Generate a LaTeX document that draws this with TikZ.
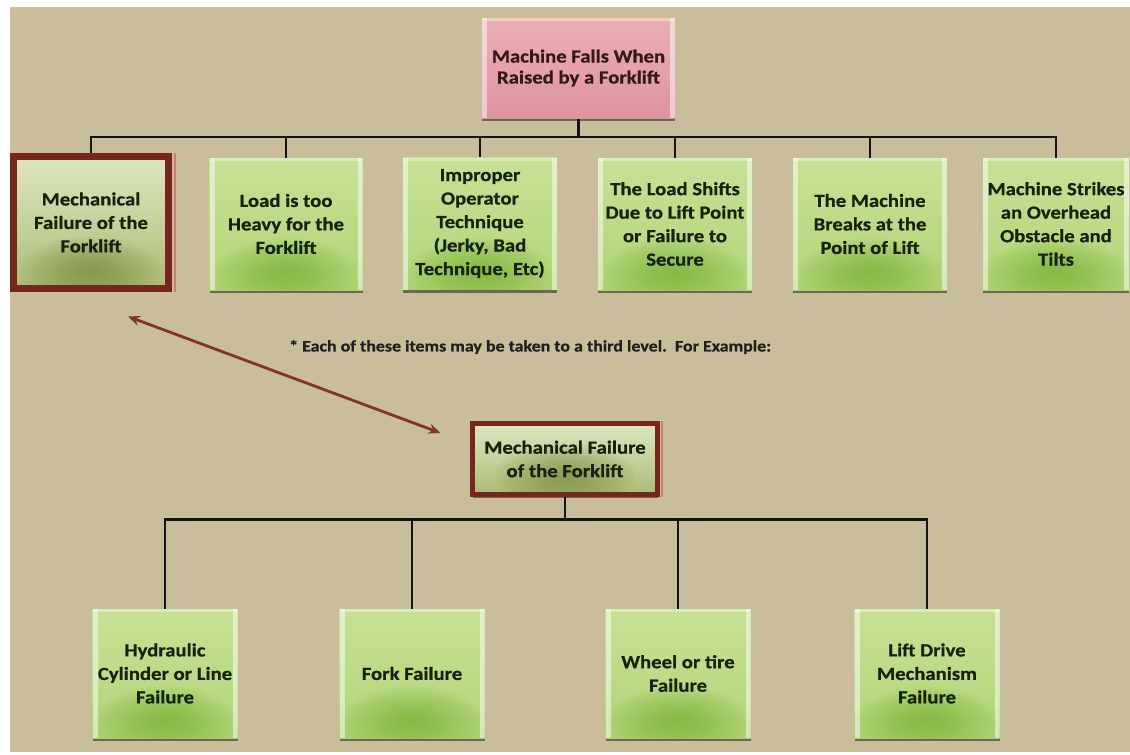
\documentclass[tikz,border=0pt]{standalone}
\usepackage{fontspec}
\setmainfont[FakeStretch=1.12, BoldFeatures={FakeBold=0.7}]{Carlito}
\usetikzlibrary{shadows,arrows.meta,backgrounds}

\definecolor{bgtan}{HTML}{C9BD9B}
\definecolor{boxtext}{HTML}{16220C}
\definecolor{toptext}{HTML}{34181A}
\definecolor{maroon}{HTML}{75261F}
\definecolor{framelight}{HTML}{C77F78}
\definecolor{arrowred}{HTML}{823628}
\definecolor{glowgreen}{HTML}{6FAA22}
\definecolor{glowolive}{HTML}{6E8030}

% colour stops of the box fills
\definecolor{gA}{HTML}{B9D98A}
\definecolor{gB}{HTML}{92C24A}
\definecolor{gC}{HTML}{A2CB62}
\definecolor{gD}{HTML}{B8D982}
\definecolor{gE}{HTML}{C6E195}
\definecolor{gF}{HTML}{D2E8AA}
\definecolor{gG}{HTML}{E8F3D2}
\definecolor{fA}{HTML}{B8C48A}
\definecolor{fB}{HTML}{94A653}
\definecolor{fC}{HTML}{A6B66C}
\definecolor{fD}{HTML}{C6D29C}
\definecolor{fE}{HTML}{E1E9C6}
\definecolor{fF}{HTML}{F3F7E6}
\definecolor{pA}{HTML}{A85A68}
\definecolor{pB}{HTML}{C77E88}
\definecolor{pC}{HTML}{D98F97}
\definecolor{pD}{HTML}{E5A2A8}
\definecolor{pE}{HTML}{ECB3B7}
\definecolor{pF}{HTML}{F6D8DA}

% green bevelled boxes (bottom to top)
\pgfdeclareverticalshading{gbox}{100bp}{%
  color(0bp)=(gA); color(3bp)=(gB); color(15bp)=(gC); color(40bp)=(gD);
  color(75bp)=(gE); color(95bp)=(gF); color(100bp)=(gG)}
% pale inner fill of the framed boxes
\pgfdeclareverticalshading{fbox}{100bp}{%
  color(0bp)=(fA); color(4bp)=(fB); color(20bp)=(fC); color(50bp)=(fD);
  color(80bp)=(fE); color(100bp)=(fF)}
% pink title box
\pgfdeclareverticalshading{pbox}{100bp}{%
  color(0bp)=(pA); color(4bp)=(pB); color(15bp)=(pC); color(50bp)=(pD);
  color(85bp)=(pE); color(100bp)=(pF)}

\newcommand\bevelstrips{%
  \fill[white,opacity=.5] (path picture bounding box.north west) rectangle ([xshift=5pt]path picture bounding box.south west);
  \fill[white,opacity=.5] (path picture bounding box.north east) rectangle ([xshift=-5pt]path picture bounding box.south east);
  \fill[white,opacity=.35] (path picture bounding box.north west) rectangle ([yshift=-3pt]path picture bounding box.north east);
}
% soft glow near the bottom edge, built from stacked translucent ellipses
\newcommand\softglow[1]{%
  \foreach \k in {1,...,14}
    \fill[#1, opacity=.055] ([yshift=18pt]path picture bounding box.south) ellipse ({5pt*\k} and {2.4pt*\k});
}

\tikzset{
  basebox/.style={rectangle, align=center, inner sep=0pt,
    font=\fontsize{18.5}{23.5}\selectfont\bfseries, text=boxtext,
    drop shadow={shadow xshift=0pt, shadow yshift=-3pt, opacity=.45, fill=black}},
  greenbox/.style={basebox, shading=gbox, minimum width=153pt, minimum height=132pt,
    path picture={\softglow{glowgreen}\bevelstrips}},
  lowbox/.style={greenbox, minimum width=145pt, minimum height=129pt},
  framedbox/.style={basebox, shading=fbox, draw=maroon,
    path picture={\softglow{glowolive}}},
  titlebox/.style={basebox, shading=pbox, minimum width=193pt, minimum height=100pt,
    text=toptext, font=\fontsize{18.5}{21}\selectfont\bfseries,
    path picture={\bevelstrips}},
  conn/.style={draw=black!92, line width=2.4pt},
  linkarrow/.style={draw=arrowred, line width=2.8pt,
    {Stealth[length=12pt,width=10pt]}-{Stealth[length=12pt,width=10pt]}},
  notetext/.style={font=\fontsize{16}{18}\selectfont\bfseries, text=black!88, inner sep=0pt}
}

\begin{document}
\begin{tikzpicture}[x=1pt,y=-1pt]
\useasboundingbox (0,0) rectangle (1130,755);

% top level
\node[titlebox] (top) at (578.5,68) {Machine Falls When\\Raised by a Forklift};

\node[framedbox, line width=7pt, minimum width=155pt, minimum height=132pt] (b1) at (91,222.5)
  {Mechanical\\Failure of the\\Forklift};
\node[greenbox] (b2) at (286,224) {Load is too\\Heavy for the\\Forklift};
\node[greenbox, minimum width=154pt] (b3) at (480,223.5)
  {Improper\\Operator\\Technique\\(Jerky, Bad\\Technique, Etc)};
\node[greenbox, minimum width=154pt] (b4) at (675,224)
  {The Load Shifts\\Due to Lift Point\\or Failure to\\Secure};
\node[greenbox, minimum width=154pt] (b5) at (870,224)
  {The Machine\\Breaks at the\\Point of Lift};
\node[greenbox, minimum width=146pt] (b6) at (1056,224)
  {Machine Strikes\\an Overhead\\Obstacle and\\Tilts};

\node[notetext, anchor=west] (note) at (289,347)
  {* Each of these items may be taken to a third level.\ \ For Example:};

% third level example
\node[framedbox, line width=5pt, minimum width=185pt, minimum height=71pt] (mid) at (565,459)
  {Mechanical Failure\\of the Forklift};

\node[lowbox] (c1) at (165,673.5) {Hydraulic\\Cylinder or Line\\Failure};
\node[lowbox] (c2) at (412,673.5) {Fork Failure};
\node[lowbox] (c3) at (678,673.5) {Wheel or tire\\Failure};
\node[lowbox] (c4) at (927,673.5) {Lift Drive\\Mechanism\\Failure};

% light inner edge on the right of the frames
\draw[framelight, line width=2pt] ([xshift=2.5pt]b1.north east) -- ([xshift=2.5pt]b1.south east);
\draw[framelight, line width=1.6pt] ([xshift=1.8pt]mid.north east) -- ([xshift=1.8pt]mid.south east);

% link between the two views of the same item
\path (b1.south) ++(37,24.5) coordinate (linkA);
\path (mid.west) ++(-29.5,-26) coordinate (linkB);
\draw[linkarrow] (linkA) -- (linkB);

\begin{pgfonlayer}{background}
  \fill[white] (0,0) rectangle (1130,755);
  \fill[bgtan] (10,7) rectangle (1130,752);
  \draw[conn] (top.south) -- ++(0,19) coordinate (topbus);
  \foreach \n in {b1,b2,b3,b4,b5,b6} \draw[conn] (\n.north) |- (topbus);
  \draw[conn] (mid.south) -- ++(0,22.5) coordinate (midbus);
  \foreach \n in {c1,c2,c3,c4} \draw[conn] (\n.north) |- (midbus);
\end{pgfonlayer}
\end{tikzpicture}
\end{document}
